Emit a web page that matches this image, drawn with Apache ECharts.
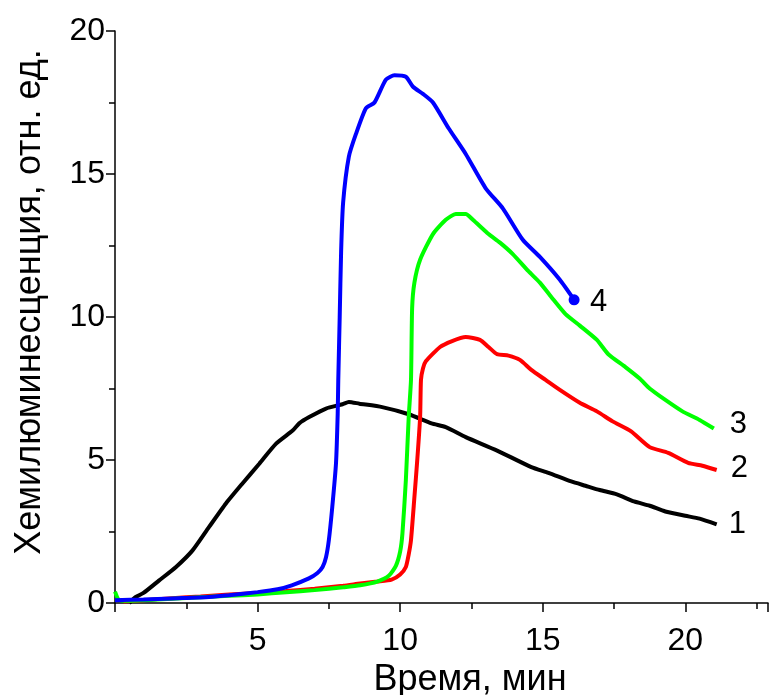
<!DOCTYPE html>
<html><head><meta charset="utf-8">
<script src="https://cdn.jsdelivr.net/npm/echarts@6/dist/echarts.min.js"></script>
<style>html,body{margin:0;padding:0;background:#fff}#c{width:769px;height:695px}</style>
</head><body><div id="c"></div>
<script>
const xTicks = [5, 10, 15, 20];
const yTicks = [0, 5, 10, 15, 20];
const seriesNames = ['1', '2', '3', '4'];
const seriesColors = ['#000000', '#ff0000', '#00ff00', '#0000ff'];

const curve1 = [[0.5,0.0],[0.73,0.21],[1.0,0.35],[1.55,0.79],[2.14,1.26],[2.72,1.84],[3.3,2.66],[3.89,3.48],[4.47,4.18],[5.06,4.87],[5.65,5.57],[6.23,6.03],[6.46,6.28],[6.81,6.5],[7.4,6.8],[7.98,6.95],[8.2,7.03],[8.57,6.97],[9.37,6.85],[10.3,6.6],[11.1,6.28],[11.6,6.15],[12.3,5.8],[13.4,5.33],[14.6,4.75],[15.2,4.55],[16.0,4.25],[16.5,4.1],[17.0,3.95],[17.6,3.8],[18.2,3.55],[18.75,3.4],[19.3,3.2],[20.0,3.05],[20.5,2.95],[21.1,2.75]];
const curve2 = [[0.3,0.05],[1,0.1],[2,0.17],[3,0.23],[4,0.3],[5,0.35],[6,0.42],[7,0.5],[8,0.6],[8.6,0.68],[9.2,0.75],[9.7,0.82],[10.0,1.0],[10.2,1.26],[10.3,1.7],[10.38,2.2],[10.5,3.7],[10.6,5.0],[10.7,6.5],[10.73,7.8],[10.8,8.2],[10.9,8.45],[11.4,8.95],[11.8,9.15],[12.3,9.3],[12.8,9.2],[13.1,8.95],[13.4,8.7],[13.8,8.65],[14.2,8.5],[14.6,8.15],[15.1,7.8],[15.6,7.45],[16.3,7.0],[16.9,6.7],[17.45,6.35],[18.1,6.0],[18.75,5.45],[19.4,5.25],[20.1,4.9],[20.6,4.8],[21.1,4.65]];
const curve3 = [[0,0.4],[0.15,0.1],[0.5,0.08],[1,0.1],[2,0.15],[3,0.2],[4,0.25],[5,0.3],[6,0.38],[7,0.45],[8,0.55],[8.6,0.62],[9.2,0.75],[9.6,0.95],[9.85,1.3],[10.0,1.8],[10.08,2.43],[10.2,4.3],[10.3,6.5],[10.38,7.8],[10.42,10.3],[10.5,11.2],[10.7,12.0],[11.15,12.9],[11.6,13.4],[11.95,13.6],[12.3,13.6],[12.55,13.4],[13.1,12.9],[13.5,12.6],[13.95,12.2],[14.5,11.6],[14.9,11.2],[15.3,10.7],[15.8,10.1],[16.3,9.7],[16.9,9.2],[17.3,8.7],[17.9,8.25],[18.4,7.85],[18.75,7.5],[19.3,7.1],[19.9,6.7],[20.5,6.4],[21.0,6.1]];
const curve4 = [[0,0.1],[1,0.12],[2,0.16],[3.3,0.21],[4,0.27],[5,0.38],[5.7,0.48],[6.2,0.62],[6.8,0.86],[7.1,1.05],[7.28,1.26],[7.4,1.6],[7.5,2.2],[7.62,3.36],[7.75,4.88],[7.81,6.62],[7.83,7.8],[7.88,10.0],[7.93,12.3],[8.0,14.0],[8.2,15.6],[8.45,16.4],[8.8,17.3],[9.1,17.5],[9.5,18.3],[9.8,18.45],[10.2,18.4],[10.45,18.05],[10.8,17.8],[11.15,17.5],[11.7,16.6],[12.3,15.7],[13.0,14.5],[13.6,13.8],[14.3,12.7],[14.9,12.1],[15.6,11.3],[16.1,10.6]];

const curves = [curve1, curve2, curve3, curve4];
const labelOffsets = [[4, 0], [6, -2], [8, -4], [8, 3]];
const FONT = "'Liberation Sans', Arial, sans-serif";

const chart = echarts.init(document.getElementById('c'));
chart.setOption({
  animation: false,
  backgroundColor: '#fff',
  grid: { left: 115, top: 31, right: 1, bottom: 92, containLabel: false, outerBoundsMode: 'none' },
  xAxis: {
    type: 'value', min: 0, max: 22.9, interval: 5,
    name: 'Время, мин', nameLocation: 'middle', nameGap: 56,
    nameTextStyle: { fontFamily: FONT, fontSize: 36, color: '#000', padding: [0, 0, 0, 57] },
    axisLine: { show: true, lineStyle: { color: '#000', width: 1.5 } },
    axisTick: { show: true, inside: false, length: 9, lineStyle: { color: '#000', width: 1.5 } },
    minorTick: { show: true, splitNumber: 2, length: 6, lineStyle: { color: '#000', width: 1.5 } },
    splitLine: { show: false },
    axisLabel: { fontFamily: FONT, fontSize: 32, color: '#000', margin: 22,
      formatter: v => xTicks.includes(v) ? String(v) : '' }
  },
  yAxis: {
    type: 'value', min: 0, max: 20, interval: 5,
    name: 'Хемилюминесценция, отн. ед.', nameLocation: 'middle', nameGap: 67, nameRotate: 90,
    nameTextStyle: { fontFamily: FONT, fontSize: 36, color: '#000', padding: [0, 0, 0, 30] },
    axisLine: { show: true, lineStyle: { color: '#000', width: 1.5 } },
    axisTick: { show: true, inside: false, length: 9, lineStyle: { color: '#000', width: 1.5 } },
    minorTick: { show: true, splitNumber: 2, length: 6, lineStyle: { color: '#000', width: 1.5 } },
    splitLine: { show: false },
    axisLabel: { fontFamily: FONT, fontSize: 32, color: '#000', margin: 10,
      formatter: v => yTicks.includes(v) ? String(v) : '' }
  },
  series: curves.map((c, i) => ({
    name: seriesNames[i],
    type: 'line',
    data: c.map((p, j) => (i === 3 && j === c.length - 1)
      ? { value: p, symbol: 'circle', symbolSize: 11, itemStyle: { color: seriesColors[i] } }
      : p),
    symbol: 'none',
    showSymbol: true,
    smooth: 0.2,
    lineStyle: { color: seriesColors[i], width: 4 },
    itemStyle: { color: seriesColors[i] },
    endLabel: { show: true, formatter: seriesNames[i], fontFamily: FONT, fontSize: 31, color: '#000',
      offset: labelOffsets[i] },
    z: 2 + i
  }))
});
</script></body></html>
